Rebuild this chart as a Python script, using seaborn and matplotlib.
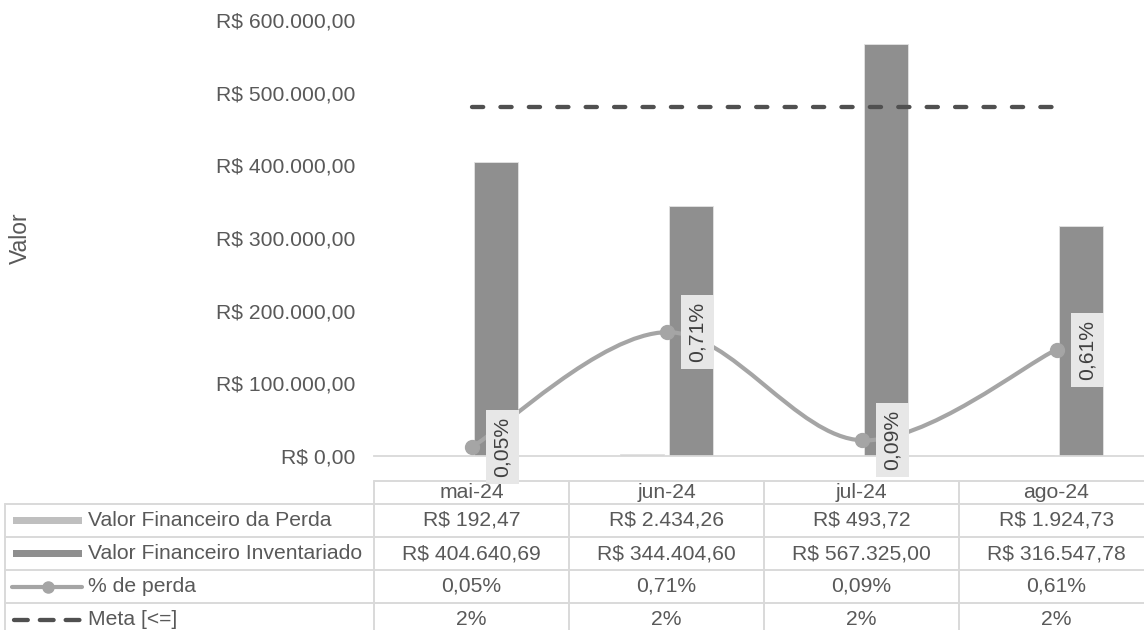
import numpy as np
import pandas as pd
import matplotlib
matplotlib.use("Agg")
import matplotlib.pyplot as plt
from matplotlib.lines import Line2D
from matplotlib.patches import Rectangle, PathPatch
from matplotlib.path import Path
from matplotlib.ticker import FuncFormatter, MultipleLocator
from matplotlib.transforms import blended_transform_factory
import seaborn as sns

# dados
meses = ["mai-24", "jun-24", "jul-24", "ago-24"]
valor_perda = [192.47, 2434.26, 493.72, 1924.73]
valor_inventariado = [404640.69, 344404.60, 567325.00, 316547.78]
perc_perda = [0.05, 0.71, 0.09, 0.61]
meta = [2, 2, 2, 2]

serie_perda = "Valor Financeiro da Perda"
serie_inv = "Valor Financeiro Inventariado"
serie_perc = "% de perda"
serie_meta = "Meta [<=]"

cor_claro = "#bfbfbf"
cor_escuro = "#8f8f8f"
cor_linha = "#a5a5a5"
cor_meta = "#505050"
cor_texto = "#595959"
cor_grade = "#d9d9d9"
fs = 15.2


def brl(v):
    s = f"{v:,.2f}".replace(",", "X").replace(".", ",").replace("X", ".")
    return f"R$ {s}"


def pct(v):
    return f"{v:.2f}%".replace(".", ",")


df = pd.DataFrame({
    "mes": meses * 2,
    "valor": valor_perda + valor_inventariado,
    "serie": [serie_perda] * 4 + [serie_inv] * 4,
})

sns.set_theme(style="white")
plt.rcParams["font.family"] = ["Liberation Sans", "DejaVu Sans"]

W, H = 1144, 630


def fx(px):
    return px / W


def fy(py):
    return 1 - py / H


fig = plt.figure(figsize=(W / 100, H / 100), dpi=100)
ax = fig.add_axes([fx(374), fy(456), 780 / W, 436 / H])

sns.barplot(data=df, x="mes", y="valor", hue="serie", order=meses,
            hue_order=[serie_perda, serie_inv], palette=[cor_claro, cor_escuro],
            width=0.5, gap=0.1, saturation=1, errorbar=None, legend=False,
            edgecolor="#e3e3e3", linewidth=0.6, ax=ax)
ax.set_xlim(-0.5, 3.5)
ax.set_ylim(0, 600000)
ax.yaxis.set_major_locator(MultipleLocator(100000))
ax.yaxis.set_major_formatter(FuncFormatter(lambda v, p: brl(v)))
ax.tick_params(axis="y", length=0, pad=13.5, labelsize=fs, labelcolor=cor_texto)
ax.tick_params(axis="x", length=0, labelbottom=False)
ax.set_xlabel("")
ax.set_ylabel("")
for s in ["top", "right", "left"]:
    ax.spines[s].set_visible(False)
ax.spines["bottom"].set_color(cor_grade)
ax.spines["bottom"].set_linewidth(1.3)
ax.patch.set_alpha(0)

# eixo secundario (percentual)
ax2 = ax.twinx()
ax2.set_ylim(0, 2.5)
ax2.set_xlim(-0.5, 3.5)
ax2.axis("off")

xs = np.arange(len(meses), dtype=float)
pts = np.column_stack([xs, perc_perda])
verts = [pts[0]]
codes = [Path.MOVETO]
n = len(pts)
for i in range(n - 1):
    p0 = pts[max(i - 1, 0)]
    p1 = pts[i]
    p2 = pts[i + 1]
    p3 = pts[min(i + 2, n - 1)]
    verts += [p1 + (p2 - p0) / 6, p2 - (p3 - p1) / 6, p2]
    codes += [Path.CURVE4] * 3
ax2.add_patch(PathPatch(Path(verts, codes), fill=False, edgecolor=cor_linha,
                        lw=3, capstyle="round", joinstyle="round", zorder=3))
ax2.plot(xs, perc_perda, "o", color=cor_linha, ms=10, zorder=4)

ax2.plot(xs, meta, color=cor_meta, lw=3.1, dashes=(2.6, 4.0),
         dash_capstyle="round", zorder=5)

for x, p in zip(xs, perc_perda):
    ax2.annotate(pct(p), (x, p), xytext=(22, 0), textcoords="offset points",
                 ha="center", va="center", rotation=90, fontsize=fs,
                 color="#404040", annotation_clip=False, zorder=10,
                 bbox=dict(boxstyle="square,pad=0.33", fc="#e7e7e7", ec="none"))

# titulo do eixo
fig.text(fx(20), fy(238), "Valor", rotation=90, ha="center", va="center",
         fontsize=16.5, color=cor_texto)

# tabela de dados
btr = blended_transform_factory(ax.transData, fig.transFigure)
kw_linha = dict(color=cor_grade, lw=1.4, zorder=-1)

fig.add_artist(Line2D([fx(374), 1.02], [fy(481)] * 2, transform=fig.transFigure, **kw_linha))
for py in [504, 537, 570, 603]:
    fig.add_artist(Line2D([fx(5), 1.02], [fy(py)] * 2, transform=fig.transFigure, **kw_linha))
fig.add_artist(Line2D([fx(5)] * 2, [fy(504), -0.02], transform=fig.transFigure, **kw_linha))
for b in [-0.5, 0.5, 1.5, 2.5]:
    fig.add_artist(Line2D([b, b], [fy(481), -0.02], transform=btr, **kw_linha))

linhas_y = [520.5, 553.5, 586.5, 619.5]
for i, m in enumerate(meses):
    fig.text(i, fy(492.5), m, transform=btr, ha="center", va="center",
             fontsize=fs, color=cor_texto)
    valores = [brl(valor_perda[i]), brl(valor_inventariado[i]), pct(perc_perda[i]),
               f"{meta[i]}%"]
    for py, t in zip(linhas_y, valores):
        fig.text(i, fy(py), t, transform=btr, ha="center", va="center",
                 fontsize=fs, color=cor_texto)

rotulos = [serie_perda, serie_inv, serie_perc, serie_meta]
for py, r in zip(linhas_y, rotulos):
    fig.text(fx(88), fy(py), r, ha="left", va="center", fontsize=fs, color=cor_texto)

# chaves da legenda
fig.add_artist(Rectangle((fx(13), fy(linhas_y[0] + 3.5)), fx(82) - fx(13), 7 / H,
                         transform=fig.transFigure, color=cor_claro, lw=0))
fig.add_artist(Rectangle((fx(13), fy(linhas_y[1] + 3.5)), fx(82) - fx(13), 7 / H,
                         transform=fig.transFigure, color=cor_escuro, lw=0))
fig.add_artist(Line2D([fx(12), fx(82)], [fy(linhas_y[2])] * 2, transform=fig.transFigure,
                      color=cor_linha, lw=3, solid_capstyle="round"))
fig.add_artist(Line2D([fx(48)], [fy(linhas_y[2])], transform=fig.transFigure,
                      color=cor_linha, marker="o", ms=8, lw=0))
fig.add_artist(Line2D([fx(14), fx(82)], [fy(linhas_y[3])] * 2, transform=fig.transFigure,
                      color=cor_meta, lw=3.1, dashes=(3.2, 2.8), dash_capstyle="round"))

fig.savefig("out.png", dpi=100)
